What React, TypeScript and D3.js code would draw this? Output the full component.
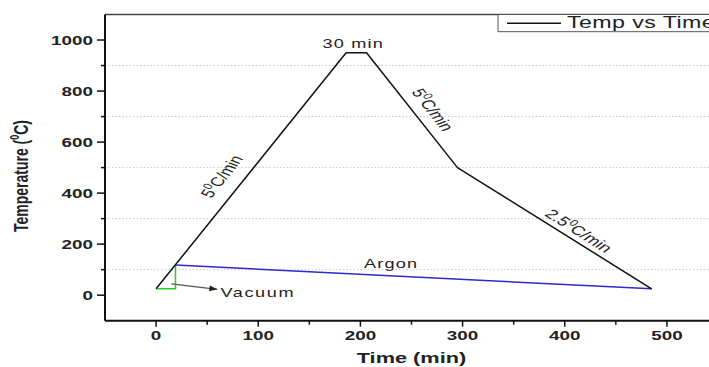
import React from "react";
import * as d3 from "d3";

// ---- data ----
const times = [0, 186, 206, 295, 485];
const temps = [25, 950, 950, 500, 25];
const vacuumTimes = [0, 19, 19];
const vacuumTemps = [25, 25, 118];
const argonTimes = [19, 485];
const argonTemps = [118, 25];
const xTicks = [0, 100, 200, 300, 400, 500];
const xMinor = [50, 150, 250, 350, 450, 550];
const yTicks = [0, 200, 400, 600, 800, 1000];
const yMinor = [100, 300, 500, 700, 900];
const rateLabels = [
  { pre: "5", rest: "C/min", t: 64, T: 466, seg: 0 },
  { pre: "5", rest: "C/min", t: 271, T: 727, seg: 2 },
  { pre: "2.5", rest: "C/min", t: 414, T: 253, seg: 3 },
];
const vacuumArrow = [[15, 44], [60, 23]];
const vacuumLabel = { text: "Vacuum", t: 63, T: 12 };
const argonLabel = { text: "Argon", t: 230, T: 126 };
const holdLabel = { text: "30 min", t: 193, T: 986 };
const legendLabel = "Temp vs Time";

const S = 1.45; // horizontal stretch of the figure
const W = 709;
const H = 367;
const VW = W / S;
const FONT = "'Liberation Sans', Arial, sans-serif";

export default function App() {
  const left = 105 / S;
  const right = 718 / S;
  const top = 14.5;
  const bottom = 320.7;
  const x = d3.scaleLinear().domain([-50, 550]).range([left, right]);
  const y = d3.scaleLinear().domain([-100, 1100]).range([bottom, top]);
  const line = d3
    .line<[number, number]>()
    .x((d) => x(d[0]))
    .y((d) => y(d[1]));
  const main = times.map((t, i) => [t, temps[i]] as [number, number]);
  const vac = vacuumTimes.map((t, i) => [t, vacuumTemps[i]] as [number, number]);
  const arg = argonTimes.map((t, i) => [t, argonTemps[i]] as [number, number]);
  const nse = { vectorEffect: "non-scaling-stroke" as const };

  const segAngle = (i: number) => {
    const dx = x(times[i + 1]) - x(times[i]);
    const dy = y(temps[i + 1]) - y(temps[i]);
    return (Math.atan2(dy, dx) * 180) / Math.PI;
  };

  const [a0, a1] = vacuumArrow;
  const ax0 = x(a0[0]), ay0 = y(a0[1]), ax1 = x(a1[0]), ay1 = y(a1[1]);
  const ang = Math.atan2(ay1 - ay0, (ax1 - ax0) * S);
  const hl = 8, hw = 3;
  const bx = ax1 * S - hl * Math.cos(ang), by = ay1 - hl * Math.sin(ang);
  const head = [
    [ax1 * S, ay1],
    [bx + hw * Math.sin(ang), by - hw * Math.cos(ang)],
    [bx - hw * Math.sin(ang), by + hw * Math.cos(ang)],
  ]
    .map((p) => `${p[0] / S},${p[1]}`)
    .join(" ");

  return (
    <svg
      width={W}
      height={H}
      viewBox={`0 0 ${VW} ${H}`}
      preserveAspectRatio="none"
      style={{ position: "absolute", left: 0, top: 0, background: "#fff" }}
      fontFamily={FONT}
    >
      <rect x={0} y={0} width={VW} height={H} fill="#fff" />
      {/* grid */}
      {yMinor.map((v) => (
        <line key={"g" + v} x1={left} x2={right} y1={y(v)} y2={y(v)} stroke="#c8c8c8" strokeWidth={1} strokeDasharray="1.5,2" {...nse} />
      ))}
      {/* frame */}
      <line x1={left} x2={right} y1={top} y2={top} stroke="#444" strokeWidth={1.5} {...nse} />
      <line x1={left} x2={left} y1={top} y2={bottom} stroke="#111" strokeWidth={2} {...nse} />
      <line x1={left} x2={right} y1={bottom} y2={bottom} stroke="#111" strokeWidth={2} {...nse} />
      {/* y ticks */}
      {yTicks.map((v) => (
        <g key={"y" + v}>
          <line x1={left - 8 / S} x2={left} y1={y(v)} y2={y(v)} stroke="#111" strokeWidth={1.5} {...nse} />
          <text x={left - 12 / S} y={y(v)} dy="0.36em" textAnchor="end" fontSize={13} fontWeight="bold" fill="#222">
            {v}
          </text>
        </g>
      ))}
      {yMinor.map((v) => (
        <line key={"ym" + v} x1={left - 4 / S} x2={left} y1={y(v)} y2={y(v)} stroke="#111" strokeWidth={1.5} {...nse} />
      ))}
      {/* x ticks */}
      {xTicks.map((v) => (
        <g key={"x" + v}>
          <line x1={x(v)} x2={x(v)} y1={bottom} y2={bottom + 6} stroke="#111" strokeWidth={1.5} {...nse} />
          <text x={x(v)} y={340.5} textAnchor="middle" fontSize={13} fontWeight="bold" fill="#222">
            {v}
          </text>
        </g>
      ))}
      {xMinor.map((v) => (
        <line key={"xm" + v} x1={x(v)} x2={x(v)} y1={bottom} y2={bottom + 4} stroke="#111" strokeWidth={1.5} {...nse} />
      ))}
      {/* axis titles */}
      <text x={(left + right) / 2} y={363} textAnchor="middle" fontSize={15} fontWeight="bold" fill="#222">
        Time (min)
      </text>
      <text transform={`translate(${28 / S},176) rotate(-90)`} textAnchor="middle" fontSize={14} fontWeight="bold" fill="#222">
        Temperature (<tspan fontSize={9} dy={-6}>0</tspan>
        <tspan dy={6}>C)</tspan>
      </text>
      {/* series */}
      <path d={line(arg) || ""} fill="none" stroke="#2a2ad0" strokeWidth={1.5} {...nse} />
      <path d={line(vac) || ""} fill="none" stroke="#22d022" strokeWidth={1.5} {...nse} />
      <path d={line(main) || ""} fill="none" stroke="#111" strokeWidth={1.5} strokeLinejoin="round" {...nse} />
      {/* vacuum arrow */}
      <line x1={ax0} y1={ay0} x2={ax1} y2={ay1} stroke="#555" strokeWidth={1.2} {...nse} />
      <polygon points={head} fill="#222" />
      {/* labels */}
      <text x={x(vacuumLabel.t)} y={y(vacuumLabel.T)} dy="0.36em" fontSize={12.5} letterSpacing={1.1} fill="#222">
        {vacuumLabel.text}
      </text>
      <text x={x(argonLabel.t)} y={y(argonLabel.T)} dy="0.36em" textAnchor="middle" fontSize={12.5} letterSpacing={0.8} fill="#222">
        {argonLabel.text}
      </text>
      <text x={x(holdLabel.t)} y={y(holdLabel.T)} dy="0.36em" textAnchor="middle" fontSize={12.5} letterSpacing={0.8} fill="#222">
        {holdLabel.text}
      </text>
      {rateLabels.map((r, i) => (
        <text
          key={"r" + i}
          transform={`translate(${x(r.t)},${y(r.T)}) rotate(${segAngle(r.seg)})`}
          dy="0.36em"
          textAnchor="middle"
          fontSize={13}
          fill="#222"
        >
          {r.pre}
          <tspan fontSize={9} dy={-5}>0</tspan>
          <tspan dy={5}>{r.rest}</tspan>
        </text>
      ))}
      {/* legend */}
      <rect x={498 / S} y={top} width={(730 - 498) / S} height={31.7 - top} fill="#fff" stroke="#555" strokeWidth={1} {...nse} />
      <line x1={507 / S} x2={561 / S} y1={23.3} y2={23.3} stroke="#111" strokeWidth={1.5} {...nse} />
      <text x={567 / S} y={28.5} fontSize={16} letterSpacing={0.3} fill="#222">
        {legendLabel}
      </text>
    </svg>
  );
}
